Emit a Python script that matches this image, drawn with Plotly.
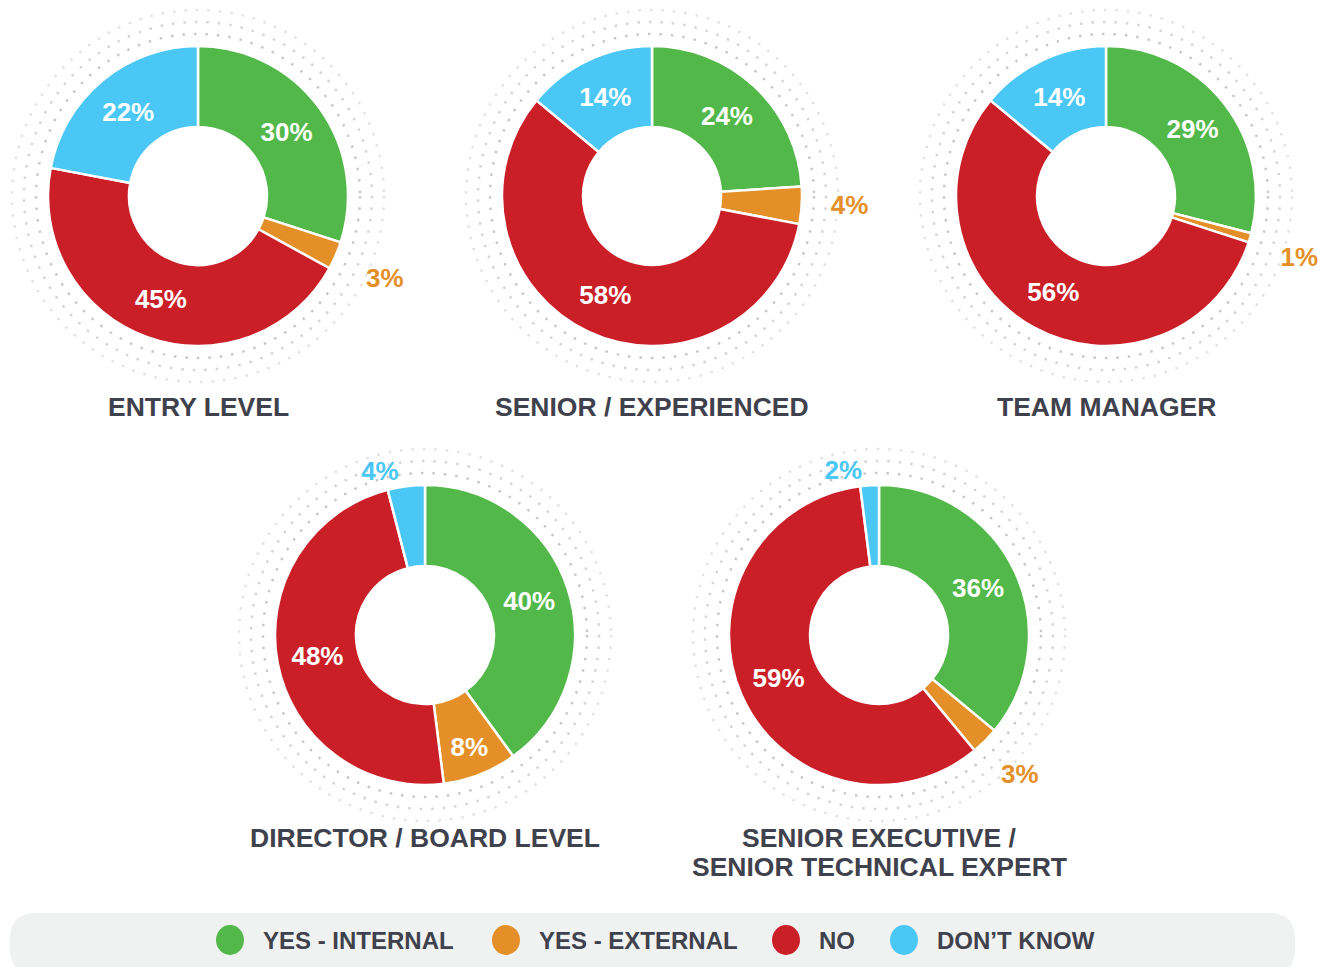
import plotly.graph_objects as go

# ---------------- data ----------------
categories = ["YES - INTERNAL", "YES - EXTERNAL", "NO", "DON\u2019T KNOW"]
colors = ["#52b84a", "#e48f27", "#cb1f28", "#4ac7f4"]

groups = ["ENTRY LEVEL", "SENIOR / EXPERIENCED", "TEAM MANAGER",
          "DIRECTOR / BOARD LEVEL", "SENIOR EXECUTIVE /|SENIOR TECHNICAL EXPERT"]

entry_level = [30, 3, 45, 22]
senior_experienced = [24, 4, 58, 14]
team_manager = [29, 1, 56, 14]
director_board = [40, 8, 48, 4]
senior_executive = [36, 3, 59, 2]

series = [entry_level, senior_experienced, team_manager, director_board, senior_executive]

# ---------------- layout helpers ----------------
W, H = 1327, 967
OFF = 8  # page body margin in the exported html
R = 150
centers = [(198, 196), (652, 196), (1106, 196), (425, 635), (879, 635)]
title_y = [407, 407, 407, 838, 838]
TXT = "#3f414c"
FONT = "Liberation Sans, Arial, sans-serif"
NB = "\u00a0"


def px(x):
    return (x - OFF) / W


def py(y):
    return 1 - (y - OFF) / H


fig = go.Figure()
shapes = []
annotations = []

ring_specs = [(162, "#c9c9c9"), (174, "#d5d5d5"), (186, "#e3e3e3")]

for vals, grp, (cx, cy), ty in zip(series, groups, centers, title_y):
    for rr, col in ring_specs:
        shapes.append(dict(type="circle", xref="paper", yref="paper",
                           x0=px(cx - rr), x1=px(cx + rr), y0=py(cy + rr), y1=py(cy - rr),
                           line=dict(color=col, width=2.5, dash="2.5px,9px"), layer="below"))
    positions = []
    templates = []
    total = float(sum(vals))
    cum = 0.0
    for v in vals:
        mid = (cum + v / 2.0) / total * 360.0
        cum += v
        if v >= 5:
            positions.append("inside")
            templates.append("%{value}%")
        else:
            positions.append("outside")
            if 100 < mid < 150:
                pad = 2 if mid < 125 else 0
                templates.append(NB + "<br>" + NB * pad + "%{value}%")
            elif 30 < mid <= 100:
                templates.append(NB * 3 + "%{value}%")
            else:
                templates.append("%{value}%")
    fig.add_trace(go.Pie(
        labels=categories, values=vals, sort=False, direction="clockwise", rotation=0,
        hole=0.46,
        marker=dict(colors=colors, line=dict(color="white", width=2.5)),
        texttemplate=templates, textposition=positions,
        insidetextorientation="horizontal",
        insidetextfont=dict(color="white", size=26, family=FONT, weight="bold"),
        outsidetextfont=dict(color=colors, size=26, family=FONT, weight="bold"),
        domain=dict(x=[px(cx - R), px(cx + R)], y=[py(cy + R), py(cy - R)]),
        showlegend=False, hoverinfo="label+percent",
    ))
    lines = grp.split("|")
    for i, ln in enumerate(lines):
        annotations.append(dict(text="<b>%s</b>" % ln, x=px(cx), y=py(ty + i * 29),
                                xref="paper", yref="paper", showarrow=False,
                                xanchor="center", yanchor="middle",
                                font=dict(size=26.5, color=TXT, family=FONT)))

# legend background (rounded pill)
lx0, lx1, ly0, ly1, rad = 10, 1295, 913, 975, 26
path = (f"M {px(lx0+rad)} {py(ly0)} L {px(lx1-rad)} {py(ly0)} "
        f"Q {px(lx1)} {py(ly0)} {px(lx1)} {py(ly0+rad)} L {px(lx1)} {py(ly1-rad)} "
        f"Q {px(lx1)} {py(ly1)} {px(lx1-rad)} {py(ly1)} L {px(lx0+rad)} {py(ly1)} "
        f"Q {px(lx0)} {py(ly1)} {px(lx0)} {py(ly1-rad)} L {px(lx0)} {py(ly0+rad)} "
        f"Q {px(lx0)} {py(ly0)} {px(lx0+rad)} {py(ly0)} Z")
shapes.append(dict(type="path", xref="paper", yref="paper", path=path,
                   fillcolor="#f0f1f1", line=dict(width=0), layer="below"))

legend_marker_x = [230, 506, 786, 904]
legend_y = 940
for name, col, mx in zip(categories, colors, legend_marker_x):
    shapes.append(dict(type="circle", xref="paper", yref="paper",
                       x0=px(mx - 14), x1=px(mx + 14), y0=py(legend_y + 15), y1=py(legend_y - 15),
                       fillcolor=col, line=dict(width=0)))
    annotations.append(dict(text="<b>%s</b>" % name, x=px(mx + 31), y=py(legend_y),
                            xref="paper", yref="paper", showarrow=False,
                            xanchor="left", yanchor="middle",
                            font=dict(size=24, color=TXT, family=FONT)))

fig.update_layout(
    width=W, height=H, margin=dict(l=0, r=0, t=0, b=0),
    paper_bgcolor="white", plot_bgcolor="white",
    shapes=shapes, annotations=annotations, showlegend=False,
)

fig.write_html("out.html")
